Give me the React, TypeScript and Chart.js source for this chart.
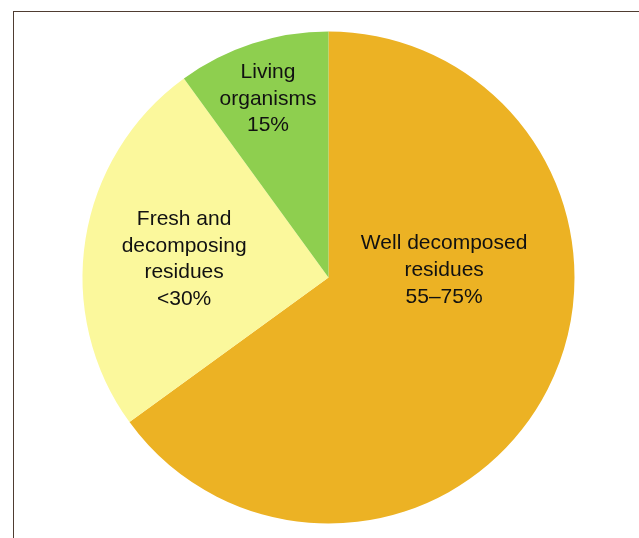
import React, { useEffect, useRef } from "react";
import { Chart, registerables } from "chart.js";

Chart.register(...registerables);

const categories = ["Well decomposed residues", "Fresh and decomposing residues", "Living organisms"];
const shares = [65, 25, 10];
const sliceLabels = [
  ["Well decomposed", "residues", "55\u201375%"],
  ["Fresh and", "decomposing", "residues", "<30%"],
  ["Living", "organisms", "15%"],
];
const colors = ["#ECB224", "#FBF89C", "#8ECF4F"];
// label anchor offsets as fractions of the pie radius (dx, dy)
const labelOffsets = [
  [0.47, -0.03],
  [-0.587, -0.075],
  [-0.246, -0.726],
];

const labelPlugin = {
  id: "sliceLabels",
  afterDatasetsDraw(chart: any) {
    const meta = chart.getDatasetMeta(0);
    const arc = meta.data[0];
    if (!arc) return;
    const { x, y, outerRadius } = arc.getProps(["x", "y", "outerRadius"], true);
    const ctx = chart.ctx;
    ctx.save();
    ctx.fillStyle = "#111111";
    ctx.font = "21px 'Liberation Sans', Arial, sans-serif";
    ctx.textAlign = "center";
    ctx.textBaseline = "middle";
    const lh = 26.6;
    sliceLabels.forEach((lines, i) => {
      const cx = x + labelOffsets[i][0] * outerRadius;
      const cy = y + labelOffsets[i][1] * outerRadius;
      const start = cy - ((lines.length - 1) * lh) / 2;
      lines.forEach((t, j) => ctx.fillText(t, cx, start + j * lh));
    });
    ctx.restore();
  },
};

export default function App() {
  const ref = useRef<HTMLCanvasElement | null>(null);
  useEffect(() => {
    if (!ref.current) return;
    const chart = new Chart(ref.current, {
      type: "pie",
      data: {
        labels: categories,
        datasets: [
          {
            data: shares,
            backgroundColor: colors,
            borderWidth: 0,
            hoverOffset: 0,
          },
        ],
      },
      options: {
        responsive: false,
        animation: false,
        layout: { padding: { left: 82.5, right: 64.5, top: 31.5, bottom: 14.5 } },
        plugins: { legend: { display: false }, tooltip: { enabled: false } },
        events: [],
      },
      plugins: [labelPlugin],
    });
    return () => chart.destroy();
  }, []);
  return (
    <div style={{ position: "fixed", left: 0, top: 0, width: 639, height: 538, background: "#fff" }}>
      <canvas ref={ref} width={639} height={538} style={{ position: "absolute", left: 0, top: 0 }} />
      <div
        style={{
          position: "absolute",
          left: 13,
          top: 11,
          right: 0,
          bottom: 0,
          borderTop: "1px solid #4f3c31",
          borderLeft: "1px solid #4f3c31",
          pointerEvents: "none",
        }}
      />
    </div>
  );
}
